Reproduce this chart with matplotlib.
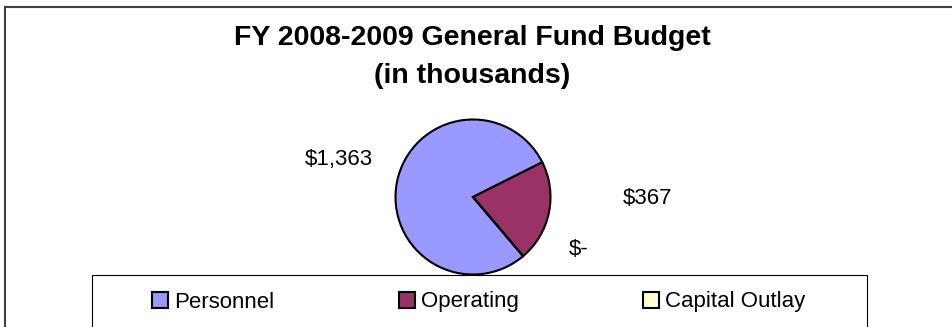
import matplotlib.pyplot as plt
from matplotlib.patches import Patch, Rectangle

plt.rcParams['font.family'] = ['Liberation Sans', 'DejaVu Sans']

categories = ["Personnel", "Operating", "Capital Outlay"]
amounts = [1363, 367, 0]   # $ thousands
colors = ["#9999FF", "#993366", "#FFFFCC"]

W, H = 953, 327
fig = plt.figure(figsize=(W / 100, H / 100), dpi=100)

def fx(px):
    return px / W

def fy(py):
    return 1 - py / H

# outer chart border (runs off the right and bottom edges)
fig.patches.append(Rectangle((fx(5), -0.1), 1.2, fy(7) + 0.1, transform=fig.transFigure,
                             fill=False, edgecolor="#404040", linewidth=1.5))

fig.text(fx(472), fy(45), "FY 2008-2009 General Fund Budget", ha="center", va="baseline",
         fontsize=20.5, fontweight="bold")
fig.text(fx(472), fy(83), "(in thousands)", ha="center", va="baseline",
         fontsize=20.5, fontweight="bold")

# pie centred at (473, 197) px
cx, cy, r = 473, 197, 77.5
ax = fig.add_axes([fx(cx - r), fy(cy + r), 2 * r / W, 2 * r / H])
ax.pie(amounts, colors=colors, startangle=-49.7, counterclock=False, radius=1,
       wedgeprops=dict(edgecolor="black", linewidth=1.5))
ax.set_xlim(-1, 1)
ax.set_ylim(-1, 1)
ax.axis("off")

def fmt(v):
    return "$-" if v == 0 else "${:,}".format(v)

label_pos = [(-1.73, 0.49), (2.25, -0.02), (1.36, -0.68)]
for v, (x, y) in zip(amounts, label_pos):
    ax.text(x, y, fmt(v), ha="center", va="center", fontsize=16)

# legend box
fig.patches.append(Rectangle((fx(92), -0.1), fx(867) - fx(92), fy(275) + 0.1,
                             transform=fig.transFigure, fill=False,
                             edgecolor="black", linewidth=0.8, zorder=5))
handles = [Patch(facecolor=c, edgecolor="black", linewidth=1.5) for c in colors]
fig.legend(handles, categories, loc="center", bbox_to_anchor=(fx(479), fy(302)),
           ncol=3, frameon=False, fontsize=16, handlelength=0.72, handleheight=0.72,
           handletextpad=0.27, columnspacing=5.6)

fig.savefig("out.png", dpi=100)
